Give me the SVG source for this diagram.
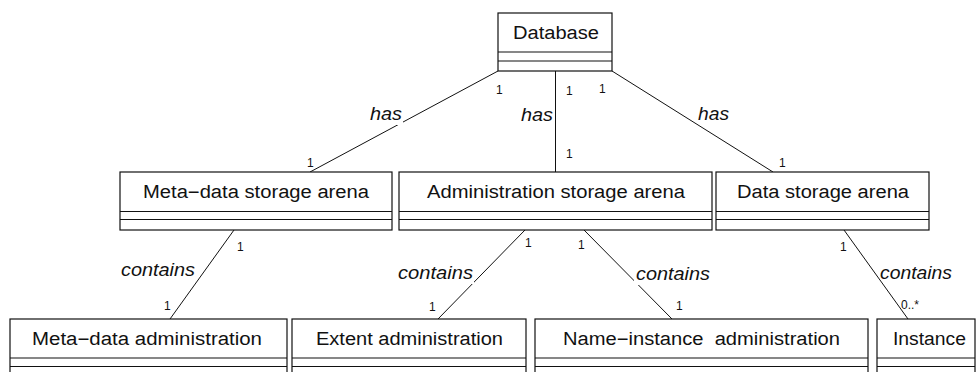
<svg xmlns="http://www.w3.org/2000/svg" width="976" height="372" viewBox="0 0 976 372">
<style>
  .box { fill: #fff; stroke: #111; stroke-width: 1.2; }
  .sep { stroke: #111; stroke-width: 1.2; }
  .edge { stroke: #111; stroke-width: 1; fill: none; }
  .name { font-family: "Liberation Sans", Arial, sans-serif; font-size: 18px; fill: #111; }
  .role { font-family: "Liberation Sans", Arial, sans-serif; font-size: 18px; font-style: italic; fill: #111; }
  .mult { font-family: "Liberation Sans", Arial, sans-serif; font-size: 12px; fill: #111; }
  .bg { fill: #fff; }
</style>
<rect x="0" y="0" width="976" height="372" fill="#fff"/>
<g id="connectors">
  <line class="edge" x1="498" y1="71" x2="310" y2="172"/>
  <line class="edge" x1="555.5" y1="71" x2="555.5" y2="172"/>
  <line class="edge" x1="612" y1="71" x2="773" y2="172"/>
  <line class="edge" x1="234" y1="230" x2="170" y2="319"/>
  <line class="edge" x1="525" y1="230" x2="438" y2="319"/>
  <line class="edge" x1="584" y1="230" x2="672" y2="319"/>
  <line class="edge" x1="844" y1="230" x2="908" y2="319"/>
  <rect class="bg" x="369" y="105" width="34" height="20"/>
  <text class="role" x="370" y="120" textLength="32" lengthAdjust="spacingAndGlyphs">has</text>
  <text class="role" x="521" y="120.5" textLength="32" lengthAdjust="spacingAndGlyphs">has</text>
  <text class="role" x="698" y="120" textLength="31" lengthAdjust="spacingAndGlyphs">has</text>
  <rect class="bg" x="120" y="261" width="76" height="20"/>
  <text class="role" x="121" y="276" textLength="74" lengthAdjust="spacingAndGlyphs">contains</text>
  <rect class="bg" x="397" y="264" width="77" height="20"/>
  <text class="role" x="398" y="279" textLength="75" lengthAdjust="spacingAndGlyphs">contains</text>
  <rect class="bg" x="634" y="265" width="77" height="20"/>
  <text class="role" x="636" y="280" textLength="74" lengthAdjust="spacingAndGlyphs">contains</text>
  <text class="role" x="880" y="279" textLength="72" lengthAdjust="spacingAndGlyphs">contains</text>
  <text class="mult" x="496" y="94">1</text>
  <text class="mult" x="566" y="95">1</text>
  <text class="mult" x="599" y="93">1</text>
  <text class="mult" x="307" y="167">1</text>
  <text class="mult" x="566" y="158">1</text>
  <text class="mult" x="779" y="167">1</text>
  <text class="mult" x="237" y="251">1</text>
  <text class="mult" x="164" y="310">1</text>
  <text class="mult" x="525" y="247">1</text>
  <text class="mult" x="429" y="311">1</text>
  <text class="mult" x="578" y="249">1</text>
  <text class="mult" x="676" y="310">1</text>
  <text class="mult" x="840" y="251">1</text>
  <text class="mult" x="901" y="309" font-size="11">0..*</text>
</g>
<g id="database">
  <rect class="box" x="498" y="13" width="114" height="58"/>
  <line class="sep" x1="498" y1="52" x2="612" y2="52"/>
  <line class="sep" x1="498" y1="61" x2="612" y2="61"/>
  <text class="name" x="513" y="39" textLength="86" lengthAdjust="spacingAndGlyphs">Database</text>
</g>
<g id="metadata-storage-arena">
  <rect class="box" x="120" y="172" width="272" height="58"/>
  <line class="sep" x1="120" y1="211.5" x2="392" y2="211.5"/>
  <line class="sep" x1="120" y1="219.5" x2="392" y2="219.5"/>
  <text class="name" x="143" y="198" textLength="226" lengthAdjust="spacingAndGlyphs">Meta−data storage arena</text>
</g>
<g id="administration-storage-arena">
  <rect class="box" x="399" y="172" width="313" height="58"/>
  <line class="sep" x1="399" y1="211.5" x2="712" y2="211.5"/>
  <line class="sep" x1="399" y1="219.5" x2="712" y2="219.5"/>
  <text class="name" x="427" y="198" textLength="258" lengthAdjust="spacingAndGlyphs">Administration storage arena</text>
</g>
<g id="data-storage-arena">
  <rect class="box" x="716" y="172" width="213" height="58"/>
  <line class="sep" x1="716" y1="211.5" x2="929" y2="211.5"/>
  <line class="sep" x1="716" y1="219.5" x2="929" y2="219.5"/>
  <text class="name" x="737" y="198" textLength="172" lengthAdjust="spacingAndGlyphs">Data storage arena</text>
</g>
<g id="metadata-administration">
  <rect class="box" x="10" y="319" width="277" height="58"/>
  <line class="sep" x1="10" y1="358" x2="287" y2="358"/>
  <line class="sep" x1="10" y1="366.5" x2="287" y2="366.5"/>
  <text class="name" x="32" y="345" textLength="230" lengthAdjust="spacingAndGlyphs">Meta−data administration</text>
</g>
<g id="extent-administration">
  <rect class="box" x="292" y="319" width="234" height="58"/>
  <line class="sep" x1="292" y1="358" x2="526" y2="358"/>
  <line class="sep" x1="292" y1="366.5" x2="526" y2="366.5"/>
  <text class="name" x="316" y="345" textLength="187" lengthAdjust="spacingAndGlyphs">Extent administration</text>
</g>
<g id="name-instance-administration">
  <rect class="box" x="535" y="319" width="333" height="58"/>
  <line class="sep" x1="535" y1="358" x2="868" y2="358"/>
  <line class="sep" x1="535" y1="366.5" x2="868" y2="366.5"/>
  <text class="name" x="563" y="345" textLength="277" lengthAdjust="spacingAndGlyphs" xml:space="preserve">Name−instance  administration</text>
</g>
<g id="instance">
  <rect class="box" x="877" y="319" width="98" height="58"/>
  <line class="sep" x1="877" y1="358" x2="975" y2="358"/>
  <line class="sep" x1="877" y1="366.5" x2="975" y2="366.5"/>
  <text class="name" x="893" y="345" textLength="73" lengthAdjust="spacingAndGlyphs">Instance</text>
</g>
</svg>
